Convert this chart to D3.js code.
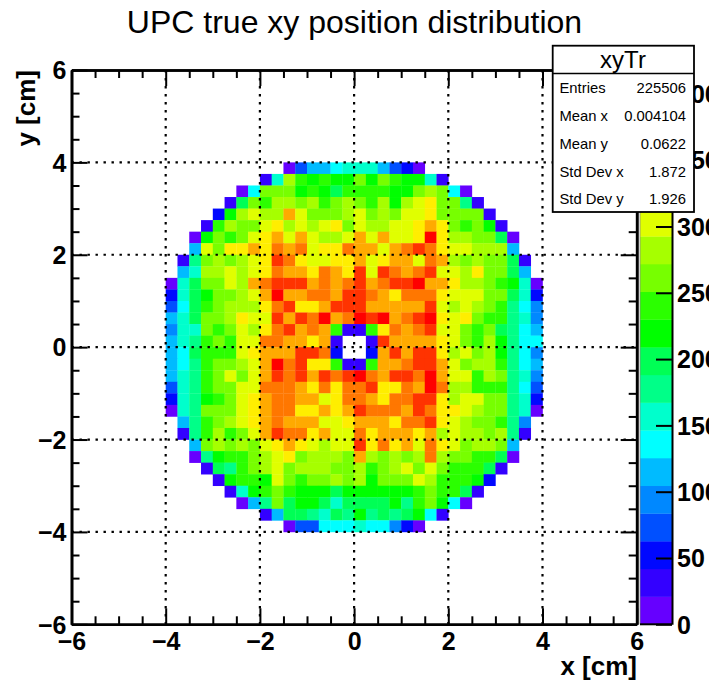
<!DOCTYPE html>
<html><head><meta charset="utf-8">
<script src="https://cdn.jsdelivr.net/npm/d3@7"></script>
<style>html,body{margin:0;padding:0;background:#fff}svg{display:block}text{font-family:"Liberation Sans",Arial,sans-serif;fill:#000}</style>
</head><body><div id="c"></div>
<script>
const titleText = "UPC true xy position distribution";
const xLabel = "x [cm]", yLabel = "y [cm]";
const majorTicks = [-6,-4,-2,0,2,4,6];
const minorTicks = [-5.5,-5,-4.5,-3.5,-3,-2.5,-1.5,-1,-0.5,0.5,1,1.5,2.5,3,3.5,4.5,5,5.5];
const gridTicks = [-4,-2,0,2,4];
const zTicks = [0,50,100,150,200,250,300,350,400];
const zMax = 418;
const palette = ["#6600ff","#3300ff","#0008ff","#0050ff","#0088ff","#00bbff","#00ffff","#00ffcc","#00ff88","#00ff55","#00ff00","#2bff00","#77ff00","#a6ff00","#e0ff00","#ffee00","#ffaa00","#ff7700","#ff3300","#ff0000"];
const binWidth = 0.25;
const statsName = "xyTr";
const statsLabels = ["Entries","Mean x","Mean y","Std Dev x","Std Dev y"];
const statsValues = ["225506","0.004104","0.0622","1.872","1.926"];
// first occupied bin edge (x, cm) and top edge (y, cm) of every row
const rowTop = d3.range(32).map(i => 4 - i*binWidth);
const rowFirstX = [-1.5,-2,-2.5,-2.75,-3,-3.25,-3.5,-3.5,-3.75,-3.75,-4,-4,-4,-4,-4,-4,-4,-4,-4,-4,-4,-4,-3.75,-3.75,-3.5,-3.5,-3.25,-3,-2.75,-2.5,-2,-1.5];
const counts = [
[10,73,115,115,136,157,157,157,115,73,52,10],
[31,157,283,241,220,241,220,220,262,220,262,241,220,220,157,31],
[10,136,262,262,262,220,241,220,199,241,241,241,241,220,220,262,283,262,136,10],
[31,199,262,241,283,283,262,283,241,262,283,262,241,283,220,283,304,325,262,262,178,31],
[52,220,283,304,283,283,346,304,262,262,262,283,304,262,283,262,304,304,325,262,262,262,262,31],
[31,241,283,262,262,304,325,283,304,283,304,325,262,304,283,283,304,304,325,346,325,262,241,262,220,31],
[10,220,262,241,262,304,325,346,304,346,304,283,283,304,346,304,346,304,304,325,409,325,283,283,262,262,199,10],
[115,304,262,325,325,346,325,367,346,367,304,325,325,367,346,346,304,346,367,388,367,325,304,304,283,283,283,115],
[31,178,262,283,262,283,304,325,388,367,325,304,304,325,325,346,304,325,346,346,304,367,346,283,262,283,262,262,199,31],
[115,157,283,283,304,283,304,325,367,346,346,325,367,346,325,388,304,388,367,346,367,388,304,304,283,325,262,262,199,115],
[10,157,199,262,262,304,283,346,367,388,388,388,346,367,346,367,388,346,367,388,388,409,346,346,325,283,283,262,241,220,157,10],
[52,157,199,220,262,262,283,304,346,409,346,346,367,367,346,388,388,367,346,325,367,367,367,325,304,304,304,262,262,199,157,52],
[73,136,199,241,262,283,283,283,325,367,388,325,325,346,388,388,388,346,346,346,346,346,388,304,283,304,283,262,241,178,136,94],
[115,157,199,262,262,283,325,304,304,388,346,388,367,409,346,367,409,388,409,346,367,388,409,325,304,325,262,241,241,178,157,94],
[94,157,157,262,241,262,304,283,325,367,388,346,367,346,241,31,31,241,325,367,346,367,388,304,304,262,241,262,199,178,136,115],
[115,157,178,241,262,241,304,304,367,367,346,346,325,346,31,0,0,31,388,346,346,346,346,325,304,262,241,283,220,178,136,136],
[115,136,199,241,241,241,304,325,346,346,346,388,388,367,52,0,0,52,346,388,346,388,388,325,283,304,262,283,220,178,136,94],
[115,136,178,241,262,262,283,304,346,409,367,388,325,325,241,31,31,241,346,346,367,388,388,346,304,262,283,283,241,178,136,115],
[115,157,178,241,262,304,262,304,346,388,367,388,346,388,367,388,409,367,346,388,388,367,409,346,304,304,241,283,262,178,157,94],
[73,157,178,241,262,262,304,304,367,367,367,346,325,367,325,367,367,388,325,325,367,346,409,367,283,283,241,241,241,178,136,73],
[52,157,178,220,241,262,304,325,346,367,367,346,346,304,325,367,367,346,325,367,367,388,388,325,283,304,304,262,262,178,157,52],
[10,157,178,262,262,262,304,325,346,367,367,325,325,346,325,346,388,367,367,367,346,388,367,325,325,304,283,262,262,178,157,10],
[115,178,241,262,283,304,325,346,367,346,346,346,304,304,325,346,346,346,325,367,367,388,325,304,283,262,262,241,178,94],
[31,178,241,283,241,262,304,346,388,367,367,325,346,304,304,367,325,346,346,346,325,346,283,304,283,283,262,283,178,31],
[115,262,283,262,283,262,304,325,346,325,304,283,304,304,388,325,367,325,346,304,367,325,304,262,283,283,262,115],
[10,178,220,241,241,262,283,304,325,262,283,283,283,262,346,283,262,283,262,283,367,283,262,262,241,241,199,10],
[31,199,178,241,262,283,304,262,283,283,283,262,262,283,241,262,283,304,262,304,262,241,241,241,199,31],
[31,220,241,241,220,304,262,241,262,262,283,262,283,220,262,262,262,304,283,241,241,241,220,52],
[31,157,220,241,262,241,220,220,220,199,220,220,220,220,220,220,241,262,241,241,199,31],
[10,115,178,262,199,220,220,199,157,199,199,199,199,220,178,241,262,220,136,10],
[31,115,199,199,178,157,199,178,220,178,199,178,199,220,136,31],
[10,73,73,136,136,136,157,136,136,94,52,10]
];

const W = 709, H = 680;
const svg = d3.select("#c").append("svg").attr("width",W).attr("height",H);
const x = d3.scaleLinear().domain([-6,6]).range([71.5,636.7]);
const y = d3.scaleLinear().domain([-6,6]).range([624.3,70]);
const color = d3.scaleQuantize().domain([0,zMax]).range(palette);
const zScale = d3.scaleLinear().domain([0,zMax]).range([624.3,70]);

// cells
const cells = counts.flatMap((row,i) => row.map((v,j) => ({x0:rowFirstX[i]+j*binWidth, y1:rowTop[i], v}))).filter(d => d.v>0);
svg.append("g").selectAll("rect").data(cells).join("rect")
  .attr("x",d=>x(d.x0)).attr("y",d=>y(d.y1))
  .attr("width",x(binWidth)-x(0)+0.3).attr("height",y(0)-y(binWidth)+0.3)
  .attr("fill",d=>color(d.v));

// grid
const grid = svg.append("g").attr("stroke","#000").attr("stroke-width",2.2).attr("stroke-dasharray","2.4,5.6");
grid.selectAll(".gx").data(gridTicks).join("line").attr("x1",d=>x(d)).attr("x2",d=>x(d)).attr("y1",y(6)).attr("y2",y(-6));
grid.selectAll(".gy").data(gridTicks).enter().append("line").attr("y1",d=>y(d)).attr("y2",d=>y(d)).attr("x1",x(-6)).attr("x2",x(6));

// axes
const fmt = d => String(d).replace("-","\u2212");
function styleAxis(g){ g.select(".domain").attr("stroke","#000").attr("stroke-width",2.6);
  g.selectAll(".tick line").attr("stroke","#000").attr("stroke-width",2);
  g.selectAll("text").attr("font-size",25).attr("font-weight","bold").attr("fill","#000").attr("font-family",'"Liberation Sans",Arial,sans-serif'); }
const axis = (gen,tx,ty,vals,len,labels) => {
  const g = svg.append("g").attr("transform",`translate(${tx},${ty})`)
    .call(gen.tickValues(vals).tickSize(len).tickSizeOuter(0).tickPadding(labels?4:0).tickFormat(labels?fmt:""));
  styleAxis(g); return g;
};
// minor ticks
axis(d3.axisBottom(x),0,y(-6),minorTicks,-8,false);
axis(d3.axisTop(x),0,y(6),minorTicks,-8,false);
axis(d3.axisLeft(y),x(-6),0,minorTicks,-8,false);
axis(d3.axisRight(y),x(6),0,minorTicks,-8,false);
// major ticks
const gb = axis(d3.axisBottom(x),0,y(-6),majorTicks,-16,true);
gb.selectAll("text").attr("y",8).attr("dy","0.71em");
axis(d3.axisTop(x),0,y(6),majorTicks,-16,false);
const gl = axis(d3.axisLeft(y),x(-6),0,majorTicks,-16,true);
gl.selectAll("text").attr("x",-5).attr("dy","0.35em");
axis(d3.axisRight(y),x(6),0,majorTicks,-16,false);

// colour bar
const barX0 = 640, barX1 = 672;
svg.append("g").selectAll("rect").data(palette).join("rect")
  .attr("x",barX0).attr("width",barX1-barX0)
  .attr("y",(d,i)=>zScale((i+1)*zMax/palette.length))
  .attr("height",(zScale(0)-zScale(zMax))/palette.length+0.3)
  .attr("fill",d=>d);
const gz = svg.append("g").attr("transform",`translate(${barX1},0)`)
  .call(d3.axisRight(zScale).tickValues(zTicks).tickSize(-16).tickSizeOuter(0).tickFormat(d=>d));
styleAxis(gz);
gz.select(".domain").attr("stroke-width",2);
gz.selectAll("text").attr("x",5).attr("dy","0.35em");
svg.append("line").attr("x1",barX0).attr("x2",barX0).attr("y1",zScale(zMax)).attr("y2",zScale(0)).attr("stroke","#888").attr("stroke-width",0.8);
svg.append("line").attr("x1",barX0).attr("x2",barX1).attr("y1",zScale(0)).attr("y2",zScale(0)).attr("stroke","#000").attr("stroke-width",2);

// titles
svg.append("text").attr("x",354.5).attr("y",33).attr("text-anchor","middle").attr("font-size",32).text(titleText);
svg.append("text").attr("x",637).attr("y",675).attr("text-anchor","end").attr("font-size",26).attr("font-weight","bold").text(xLabel);
svg.append("text").attr("transform","translate(35,70) rotate(-90)").attr("text-anchor","end").attr("font-size",26).attr("font-weight","bold").text(yLabel);

// stats box
const sb = svg.append("g");
sb.append("rect").attr("x",552.7).attr("y",45.7).attr("width",141.3).attr("height",166.3).attr("fill","#fff").attr("stroke","#000").attr("stroke-width",1.8);
sb.append("line").attr("x1",552.7).attr("x2",694).attr("y1",73.5).attr("y2",73.5).attr("stroke","#000").attr("stroke-width",1.4);
sb.append("text").attr("x",623).attr("y",68).attr("text-anchor","middle").attr("font-size",24).text(statsName);
const rowY = [93,120.7,148.5,176.5,204];
statsLabels.forEach((s,i)=>{
  sb.append("text").attr("x",559.5).attr("y",rowY[i]).attr("font-size",14.8).text(s);
  sb.append("text").attr("x",686).attr("y",rowY[i]).attr("text-anchor","end").attr("font-size",14.8).text(statsValues[i]);
});
</script></body></html>
